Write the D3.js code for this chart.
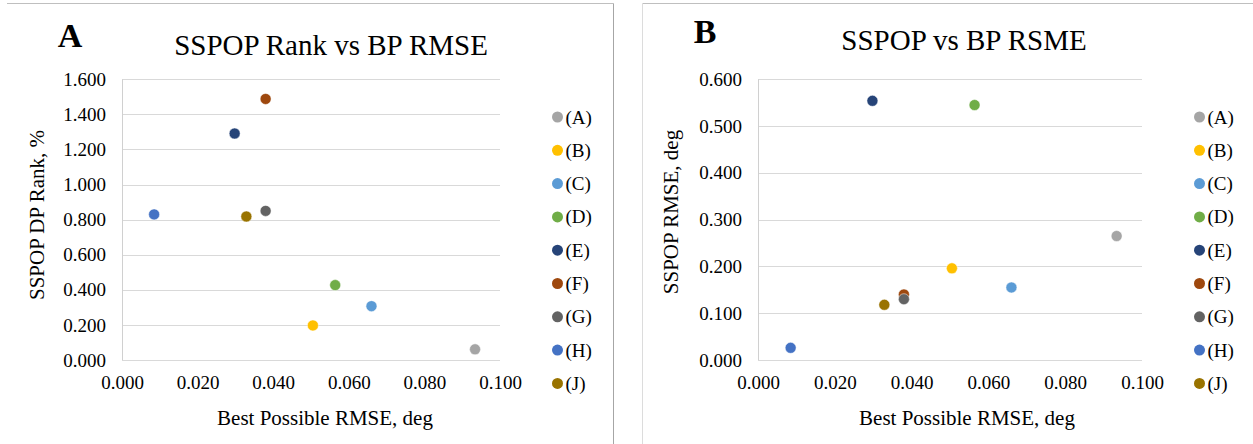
<!DOCTYPE html>
<html>
<head>
<meta charset="utf-8">
<script src="https://cdn.jsdelivr.net/npm/d3@7"></script>
<style>
  body { margin: 0; background: #fff; }
  svg text { font-family: "Liberation Serif", "Times New Roman", serif !important; fill: #000; }
</style>
</head>
<body>
<div class="canvas"></div>
<script>
// data
const labels = ['(A)', '(B)', '(C)', '(D)', '(E)', '(F)', '(G)', '(H)', '(J)'];
const colors = ['#a5a5a5', '#ffc000', '#5b9bd5', '#70ad47', '#264478', '#9e480e', '#636363', '#4472c4', '#997300'];
const bpRmse = [0.0934, 0.0505, 0.0660, 0.0564, 0.0298, 0.0380, 0.0380, 0.0085, 0.0329];
const dpRank = [0.061, 0.197, 0.307, 0.427, 1.291, 1.488, 0.850, 0.830, 0.818];
const sspopRmse = [0.265, 0.196, 0.155, 0.545, 0.554, 0.140, 0.130, 0.026, 0.118];
const xTicks = [0, 0.02, 0.04, 0.06, 0.08, 0.1];
const yTicksA = [0, 0.2, 0.4, 0.6, 0.8, 1.0, 1.2, 1.4, 1.6];
const yTicksB = [0, 0.1, 0.2, 0.3, 0.4, 0.5, 0.6];

const W = 1253, H = 444;
const serif = '"Liberation Serif", "Times New Roman", serif';

const svg = d3.select('.canvas')
  .append('svg')
  .attr('width', W)
  .attr('height', H)
  .style('font-family', serif);

svg.append('rect').attr('width', W).attr('height', H).attr('fill', '#fff');

// panel frames
svg.append('line')
  .attr('x1', 7).attr('x2', 613.5).attr('y1', 3.5).attr('y2', 3.5)
  .attr('stroke', '#bfbfbf');
svg.append('line')
  .attr('x1', 613.5).attr('x2', 613.5).attr('y1', 3.5).attr('y2', H)
  .attr('stroke', '#a6a6a6');
svg.append('line')
  .attr('x1', 642.5).attr('x2', W).attr('y1', 3.5).attr('y2', 3.5)
  .attr('stroke', '#bfbfbf');
svg.append('line')
  .attr('x1', 642.5).attr('x2', 642.5).attr('y1', 3.5).attr('y2', H)
  .attr('stroke', '#dcdcdc');

const panels = [
  {
    letter: 'A', letterX: 70, letterY: 47,
    title: 'SSPOP Rank vs BP RMSE', titleX: 331, titleY: 55,
    yTitle: 'SSPOP DP Rank, %', yTitleX: 44, yTitleY: 215,
    xTitleX: 325,
    left: 122, right: 500,
    yValues: dpRank, yTicks: yTicksA, yMax: 1.6,
    legendX: 557.5
  },
  {
    letter: 'B', letterX: 705, letterY: 43,
    title: 'SSPOP vs BP RSME', titleX: 964, titleY: 50,
    yTitle: 'SSPOP RMSE, deg', yTitleX: 678, yTitleY: 212,
    xTitleX: 967,
    left: 758, right: 1142,
    yValues: sspopRmse, yTicks: yTicksB, yMax: 0.6,
    legendX: 1199.5
  }
];

const plotTop = 79.3, plotBottom = 360;

panels.forEach(p => {

  const x = d3.scaleLinear().domain([0, 0.1]).range([p.left, p.right]);
  const y = d3.scaleLinear().domain([0, p.yMax]).range([plotBottom, plotTop]);

  const g = svg.append('g');

  // gridlines
  g.selectAll('line.grid')
    .data(p.yTicks)
    .enter()
    .append('line')
      .attr('class', 'grid')
      .attr('x1', p.left).attr('x2', p.right)
      .attr('y1', d => Math.round(y(d)) + 0.5)
      .attr('y2', d => Math.round(y(d)) + 0.5)
      .attr('stroke', '#d9d9d9')
      .attr('stroke-width', 1);

  // vertical axis line
  g.append('line')
    .attr('x1', p.left + 0.5).attr('x2', p.left + 0.5)
    .attr('y1', plotTop).attr('y2', plotBottom)
    .attr('stroke', '#d0d0d0');

  // axes (labels only)
  const xAxis = d3.axisBottom(x)
    .tickValues(xTicks)
    .tickSize(0)
    .tickPadding(16)
    .tickFormat(d3.format('.3f'));

  const yAxis = d3.axisLeft(y)
    .tickValues(p.yTicks)
    .tickSize(0)
    .tickPadding(16)
    .tickFormat(d3.format('.3f'));

  const xAxisGroup = g.append('g')
    .attr('transform', `translate(0, ${plotBottom})`)
    .call(xAxis);
  const yAxisGroup = g.append('g')
    .attr('transform', `translate(${p.left}, 0)`)
    .call(yAxis);

  [xAxisGroup, yAxisGroup].forEach(ag => {
    ag.attr('font-family', serif).attr('font-size', 19);
    ag.select('.domain').remove();
    ag.selectAll('text')
      .style('font-family', serif)
      .attr('fill', '#000');
  });

  // points
  g.selectAll('circle.pt')
    .data(labels)
    .enter()
    .append('circle')
      .attr('class', 'pt')
      .attr('cx', (d, i) => x(bpRmse[i]))
      .attr('cy', (d, i) => y(p.yValues[i]))
      .attr('r', 5.5)
      .attr('fill', (d, i) => colors[i])
      .attr('stroke', '#fff')
      .attr('stroke-width', 0.5);

  // titles
  g.append('text')
    .attr('x', p.letterX).attr('y', p.letterY)
    .attr('text-anchor', 'middle')
    .attr('font-size', 34)
    .attr('font-weight', 'bold')
    .text(p.letter);

  g.append('text')
    .attr('x', p.titleX).attr('y', p.titleY)
    .attr('text-anchor', 'middle')
    .attr('font-size', 29)
    .text(p.title);

  g.append('text')
    .attr('x', p.xTitleX).attr('y', 425)
    .attr('text-anchor', 'middle')
    .attr('font-size', 21)
    .text('Best Possible RMSE, deg');

  g.append('text')
    .attr('transform', `translate(${p.yTitleX}, ${p.yTitleY}) rotate(-90)`)
    .attr('text-anchor', 'middle')
    .attr('font-size', 21)
    .text(p.yTitle);

  // legend
  const legend = g.selectAll('g.leg')
    .data(labels)
    .enter()
    .append('g')
      .attr('class', 'leg')
      .attr('transform', (d, i) => `translate(${p.legendX}, ${117 + i * 33.3})`);

  legend.append('circle')
    .attr('r', 5.5)
    .attr('fill', (d, i) => colors[i]);

  legend.append('text')
    .attr('x', 8)
    .attr('y', 6.5)
    .attr('font-size', 19)
    .text(d => d);
});
</script>
</body>
</html>
